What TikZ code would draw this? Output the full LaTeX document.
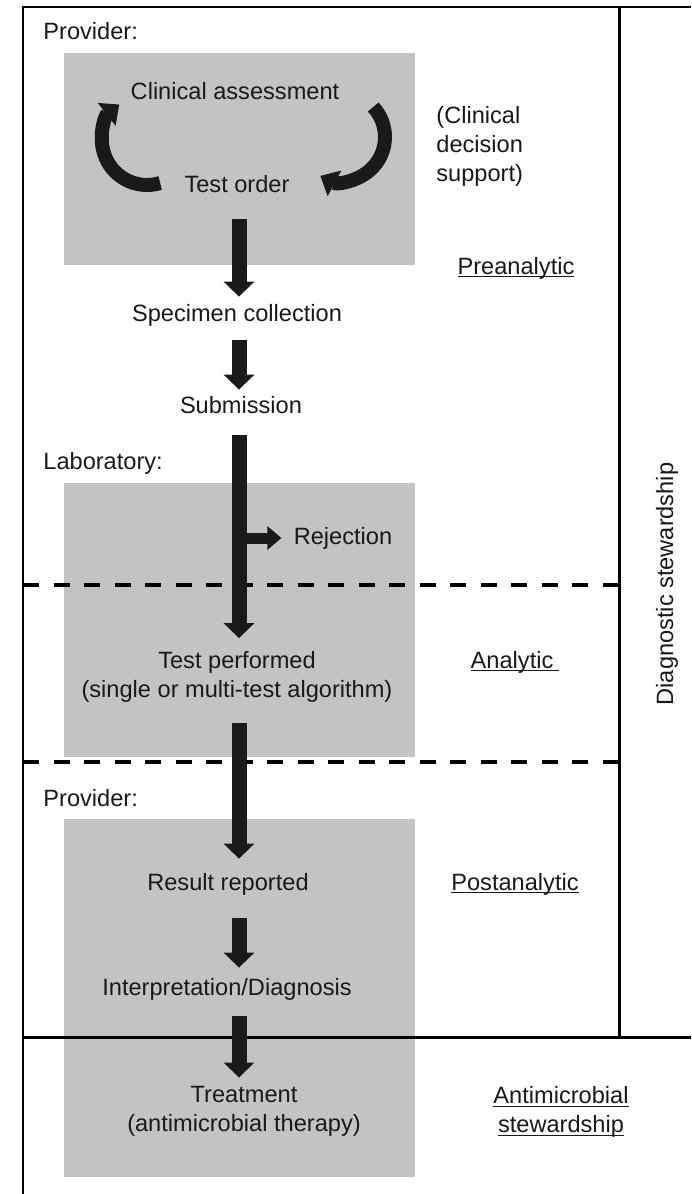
\documentclass[tikz,border=0pt]{standalone}
\usepackage{fontspec}
\setmainfont{Liberation Sans}
\usepackage{tikz}
\usetikzlibrary{arrows.meta}

\definecolor{boxgray}{RGB}{195,195,195}
\definecolor{ink}{RGB}{26,26,26}

% underline that sits just under the baseline
\newcommand{\phaseul}[1]{\setbox0\hbox{#1}\rlap{\rule[-1.6pt]{\wd0}{0.55pt}}\box0}

\begin{document}
\begin{tikzpicture}
  [x=0.5pt,y=-0.5pt,
   every node/.style={font=\fontsize{11.8}{14.5}\selectfont,inner sep=0pt,text=black!90},
   lbl/.style={text height=8.6pt,text depth=2.4pt},
   flow/.style={ink,line width=7.5pt,-{Triangle[width=15pt,length=7.5pt]}},
   loop/.style={ink,line width=7pt,-{Triangle[width=14pt,length=8pt]}},
   branch/.style={ink,line width=5.5pt,-{Triangle[width=11.5pt,length=7pt]}},
   divider/.style={line width=1.6pt,dash pattern=on 8pt off 7.25pt},
   frame/.style={line width=1pt}]

  \useasboundingbox (0,0) rectangle (691,1194);

  % grey backgrounds
  \fill[boxgray] (64,53) rectangle (415,265);
  \fill[boxgray] (64,483) rectangle (415,757);
  \fill[boxgray] (64,819) rectangle (415,1177);

  % frame and phase lines
  \draw[frame] (691,7) -- (23,7) -- (23,1194);
  \draw[line width=1.5pt] (619,7) -- (619,1037);
  \draw[line width=1.5pt] (23,1037) -- (691,1037);
  \draw[divider] (23,585) -- (619,585);
  \draw[divider] (23,762) -- (619,762);

  \node[anchor=west,lbl] (prov1) at (43,33) {Provider:};
  \node[lbl] (clin) at (235,93) {Clinical assessment};
  \node[lbl] (order) at (237,186) {Test order};
  \node[anchor=west,align=left] (cds) at (436,146) {(Clinical\\decision\\support)};
  \node[lbl] (pre) at (516,268) {\phaseul{Preanalytic}};
  \node[lbl] (spec) at (237,315) {Specimen collection};
  \node[lbl] (sub) at (241,407) {Submission};
  \node[anchor=west,lbl] (lab) at (43,463) {Laboratory:};
  \node[lbl] (rej) at (343,538) {Rejection};
  \node[align=center] (perf) at (237,677) {Test performed\\(single or multi-test algorithm)};
  \node[lbl] (ana) at (515,662) {\phaseul{Analytic\hspace{.25em}}};
  \node[anchor=west,lbl] (prov2) at (43,800) {Provider:};
  \node[lbl] (res) at (228,884) {Result reported};
  \node[lbl] (post) at (515,884) {\phaseul{Postanalytic}};
  \node[lbl] (interp) at (227,989) {Interpretation/Diagnosis};
  \node[align=center] (treat) at (244,1111) {Treatment\\(antimicrobial therapy)};
  \node[align=center] (amr) at (561,1112) {\phaseul{Antimicrobial}\\\phaseul{stewardship}};
  \node[rotate=90,lbl] (diag) at (667,584) {Diagnostic stewardship};

  % decision loop
  \draw[loop] ([xshift=-12pt,yshift=1.5pt]order.west) arc[start angle=73,end angle=232,radius=45];
  \draw[loop] ([xshift=16.75pt,yshift=-7pt]clin.east) arc[start angle=-43,end angle=118,radius=44];

  % main flow
  \coordinate (spine) at (239,0);
  \draw[branch,shorten >=6pt] (rej.west -| spine) -- (rej.west);
  \foreach \from/\to/\s/\e in {order/spec/11/3.5,spec/sub/7/3,sub/perf/8.5/6.5,
                               perf/res/10/7,res/interp/11.5/5,interp/treat/8/4}
    \draw[flow,shorten <=\s pt,shorten >=\e pt] (\from.south -| spine) -- (\to.north -| spine);

\end{tikzpicture}
\end{document}
